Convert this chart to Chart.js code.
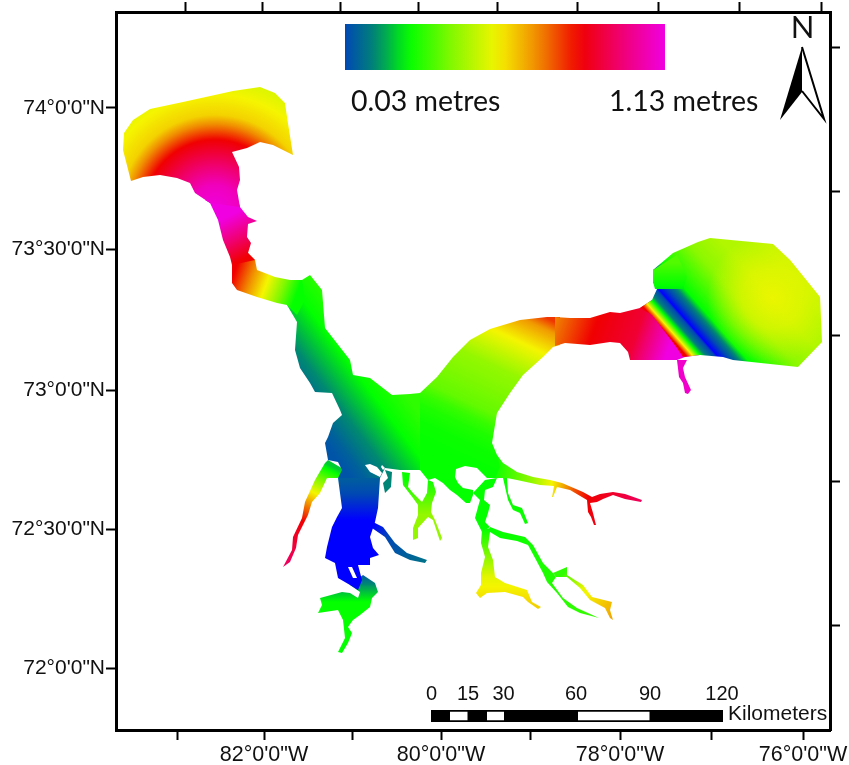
<!DOCTYPE html>
<html>
<head>
<meta charset="utf-8">
<title>Tidal range map</title>
<script src="https://cdn.jsdelivr.net/npm/chart.js@4/dist/chart.umd.min.js"></script>
<style>
html, body { margin: 0; padding: 0; background: #fff; }
canvas { display: block; }
</style>
</head>
<body>
<canvas id="mapa" width="849" height="765"></canvas>
<script>
// Map grid: easting and northing from the lower left corner of the frame
const gridEastMax = 714;
const gridNorthMax = 718;

// Colour ramp of the legend, in metres
const rampMetres = [0, 0.03, 0.14, 0.247, 0.393, 0.553, 0.69, 0.837, 0.976, 1.13];
const rampRed = [0, 0, 0, 0, 128, 245, 240, 240, 240, 240];
const rampGreen = [0, 72, 138, 255, 248, 245, 140, 0, 0, 0];
const rampBlue = [255, 180, 112, 0, 0, 0, 0, 0, 112, 224];

// Axis ticks
const bottomTicks = [61, 148, 236, 325, 414, 504, 595, 687];
const bottomLabels = ['', '82°0\'0"W', '', '80°0\'0"W', '', '78°0\'0"W', '', '76°0\'0"W'];
const topTicks = [69, 146, 224, 302, 381, 461, 542, 623, 705];
const leftTicks = [622, 481, 340, 201, 62];
const leftLabels = ['74°0\'0"N', '73°30\'0"N', '73°0\'0"N', '72°30\'0"N', '72°0\'0"N'];
const rightTicks = [683, 539, 394, 249, 105];

// North-west basin
const basinE = [15, 7, 8, 17, 34, 67, 117, 144, 159, 169, 171, 177, 157, 144, 131, 116, 123, 124, 121, 124, 94, 79, 74, 61, 44, 27];
const basinN = [549, 580, 597, 610, 621, 628, 639, 643, 637, 627, 613, 575, 585, 588, 582, 578, 563, 550, 540, 523, 527, 537, 547, 552, 555, 553];
const basinCentre = [99, 520];
const basinRadii = [0, 25, 45, 70, 95, 130];
const basinMetres = [1.13, 1.08, 0.97, 0.84, 0.6, 0.52];

// Narrows south of the basin
const narrowsE = [89, 122, 124, 132, 141, 132, 131, 135, 132, 139, 116, 114, 107, 102, 94];
const narrowsN = [530, 530, 523, 513, 509, 506, 493, 487, 477, 470, 465, 473, 490, 510, 527];
const narrowsLine = [105, 510, 125, 470];
const narrowsAt = [0, 1];
const narrowsMetres = [1.13, 0.84];

// Bend towards the main channel
const bendE = [116, 116, 121, 141, 161, 171, 181, 189, 186, 174, 159, 141, 139, 132];
const bendN = [467, 447, 440, 433, 427, 425, 415, 430, 450, 450, 453, 460, 470, 477];
const bendLine = [122, 468, 184, 445];
const bendAt = [0, 0.52, 1];
const bendMetres = [0.84, 0.55, 0.25];

// Main channel and west of the central basin
const channelE = [174, 186, 194, 206, 209, 234, 237, 254, 276, 294, 304, 304, 284, 269, 264, 222, 226, 222, 212, 209, 212, 217, 226, 224, 216, 199, 194, 184, 179, 181, 171];
const channelN = [450, 450, 455, 440, 402, 370, 355, 352, 335, 336, 337, 260, 260, 262, 252, 252, 260, 268, 270, 287, 293, 307, 315, 320, 337, 338, 347, 362, 380, 408, 425];
const channelLine = [237, 249, 312, 305];
const channelAt = [0, 0.12, 0.36, 0.73, 1];
const channelMetres = [0.05, 0.07, 0.14, 0.25, 0.3];

// East of the central basin
const centralE = [304, 321, 337, 354, 374, 404, 431, 444, 444, 437, 427, 407, 394, 381, 376, 381, 384, 379, 371, 361, 349, 340, 339, 342, 347, 357, 357, 354, 350, 341, 334, 327, 319, 312, 304];
const centralN = [337, 353, 373, 390, 401, 410, 413, 413, 385, 383, 373, 355, 337, 317, 287, 275, 263, 252, 252, 262, 264, 261, 253, 247, 242, 240, 235, 227, 227, 235, 240, 247, 252, 250, 260];
const centralLine = [304, 287, 375, 438];
const centralAt = [0, 0.125, 0.21, 0.276, 0.345, 0.607, 0.798, 0.935, 1];
const centralMetres = [0.25, 0.26, 0.28, 0.31, 0.36, 0.42, 0.55, 0.67, 0.78];

// Eastern arm
const armE = [439, 454, 474, 494, 504, 524, 536, 584, 569, 561, 537, 514, 512, 504, 494, 474, 449, 439];
const armN = [413, 412, 412, 418, 417, 422, 430, 375, 373, 370, 370, 370, 378, 387, 388, 385, 387, 384];
const armLine = [439, 410, 549, 372];
const armAt = [0, 0.35, 0.7, 1];
const armMetres = [0.7, 0.84, 0.9, 1.13];

// Small inlet under the eastern arm
const inletE = [561, 563, 567, 569, 572, 575, 569, 567, 571];
const inletN = [370, 353, 347, 337, 336, 340, 353, 362, 370];
const inletMetres = [1.1];

// Eastern basin, bands running from north west to south east
const eastE = [537, 557, 582, 594, 657, 674, 704, 706, 682, 617, 607, 584, 567, 561, 549, 536, 524, 536, 541, 537, 539];
const eastN = [460, 477, 488, 492, 486, 470, 433, 388, 363, 370, 373, 375, 373, 382, 398, 415, 422, 430, 441, 448, 455];
const eastLine = [570.7, 373.7, 675.7, 466];
const eastAt = [0, 0.019, 0.036, 0.055, 0.076, 0.107, 0.167, 0.214, 0.25, 0.31, 0.38, 0.548, 0.729, 0.881, 1];
const eastMetres = [0.84, 0.7, 0.55, 0.4, 0.25, 0.12, 0, 0.03, 0.1, 0.25, 0.3, 0.41, 0.46, 0.46, 0.48];

// Yellow middle of the eastern basin
const glowCentre = [656, 432];
const glowRadii = [0, 30, 65];
const glowStrength = [0.85, 0.6, 0];

// Shoulder in the north west of the eastern basin
const shoulderE = [539, 567, 571, 561, 537, 537];
const shoulderN = [441, 441, 453, 475, 460, 448];
const shoulderLine = [550, 438, 550, 467];
const shoulderAt = [0, 1];
const shoulderMetres = [0.22, 0.34];

// South-west arm
const westArmE = [209, 199, 189, 186, 177, 176, 167, 174, 180, 182, 192, 196, 204, 211, 222, 229, 212];
const westArmN = [267, 250, 228, 212, 193, 180, 163, 168, 182, 195, 215, 228, 237, 252, 252, 260, 270];
const westArmLine = [217, 263, 171, 170];
const westArmAt = [0, 0.3, 0.44, 0.6, 1];
const westArmMetres = [0.2, 0.55, 0.7, 0.84, 0.95];

// Deep blue southern channel
const southE = [222, 264, 262, 259, 254, 257, 263, 254, 254, 242, 246, 242, 234, 222, 219, 209, 211, 216, 221, 226];
const southN = [252, 252, 222, 208, 193, 182, 175, 172, 165, 165, 150, 140, 145, 152, 167, 172, 183, 203, 213, 222];
const southLine = [240, 262, 240, 210];
const southAt = [0, 0.5, 1];
const southMetres = [0.09, 0.03, 0];

// Green loop at the southern end
const loopE = [247, 259, 262, 256, 254, 244, 237, 232, 236, 232, 226, 222, 229, 227, 222, 202, 206, 204, 226, 234, 242, 244, 234];
const loopN = [155, 147, 138, 132, 123, 115, 110, 103, 97, 87, 77, 78, 92, 110, 120, 117, 125, 132, 138, 137, 132, 138, 145];
const loopLine = [245, 158, 245, 128];
const loopAt = [0, 0.5, 1];
const loopMetres = [0.03, 0.16, 0.25];

// Tributaries
const blueCreekE = [257, 267, 279, 291, 311, 309, 294, 279, 269, 256];
const blueCreekN = [208, 203, 187, 177, 170, 167, 170, 177, 193, 202];
const blueCreekLine = [257, 205, 311, 170];
const blueCreekAt = [0, 1];
const blueCreekMetres = [0, 0.1];

const shortCreekE = [269, 276, 275, 269, 267, 272];
const shortCreekN = [260, 258, 243, 237, 247, 252];
const shortCreekMetres = [0.13];

const forkE = [286, 287, 297, 302, 302, 297, 297, 302, 302, 312, 317, 324, 326, 319, 315, 316, 320, 317, 312, 311, 306, 297, 292, 294];
const forkN = [258, 245, 232, 225, 215, 202, 190, 192, 202, 213, 210, 189, 192, 210, 218, 227, 238, 248, 250, 237, 228, 237, 243, 257];
const forkLine = [305, 250, 305, 215];
const forkAt = [0, 1];
const forkMetres = [0.26, 0.42];

const thinCreekE = [391, 392, 397, 406, 412, 409, 404, 397, 392, 387];
const thinCreekN = [252, 237, 225, 222, 207, 206, 217, 220, 230, 252];
const thinCreekMetres = [0.26];

const stemE = [357, 369, 381, 377, 369, 368, 374, 372, 369, 374, 366, 359, 362, 364];
const stemN = [237, 250, 252, 243, 240, 230, 225, 217, 208, 203, 198, 212, 223, 230];
const stemMetres = [0.25];

const yellowArmE = [366, 374, 374, 372, 377, 379, 389, 411, 416, 425, 422, 412, 407, 389, 371, 364, 360, 365, 365, 369, 365];
const yellowArmN = [200, 202, 198, 183, 170, 153, 147, 140, 128, 123, 121, 128, 133, 138, 137, 132, 137, 145, 157, 173, 187];
const yellowArmLine = [375, 200, 375, 125];
const yellowArmAt = [0, 0.3, 0.63, 1];
const yellowArmMetres = [0.26, 0.38, 0.53, 0.6];

const greenArmE = [374, 387, 409, 417, 427, 437, 440, 436, 447, 461, 483, 464, 452, 441, 431, 427, 419, 412, 401, 384, 374];
const greenArmN = [203, 198, 193, 185, 167, 157, 153, 147, 132, 122, 112, 117, 123, 137, 148, 157, 172, 185, 189, 192, 198];
const greenArmLine = [374, 200, 483, 112];
const greenArmAt = [0, 1];
const greenArmMetres = [0.25, 0.31];

const orangeArmE = [437, 451, 451, 467, 476, 496, 494, 497, 494, 489, 474, 464, 451, 440];
const orangeArmN = [157, 163, 155, 145, 133, 128, 120, 110, 112, 122, 130, 142, 153, 153];
const orangeArmLine = [451, 160, 497, 110];
const orangeArmAt = [0, 0.35, 0.75, 1];
const orangeArmMetres = [0.3, 0.53, 0.62, 0.66];

const redArmE = [381, 387, 401, 417, 434, 446, 467, 476, 484, 497, 509, 526, 525, 509, 497, 487, 481, 474, 477, 480, 478, 475, 472, 471, 454, 441, 437, 436, 438, 424, 401, 391, 379, 374];
const redArmN = [275, 267, 258, 253, 250, 247, 238, 233, 236, 238, 236, 230, 228, 231, 235, 231, 228, 227, 217, 205, 205, 213, 218, 230, 240, 243, 233, 233, 244, 245, 250, 252, 252, 260];
const redArmLine = [381, 260, 526, 240];
const redArmAt = [0, 0.25, 0.38, 0.54, 0.65, 1];
const redArmMetres = [0.27, 0.42, 0.55, 0.75, 0.84, 0.95];

// Islands
const islandOneE = [232, 236, 241, 237];
const islandOneN = [163, 163, 152, 152];
const islandTwoE = [249, 254, 264, 266, 261, 254];
const islandTwoN = [265, 258, 253, 257, 263, 266];
const islandThreeE = [266, 269, 267, 265];
const islandThreeN = [265, 262, 260, 263];

// Legend bar
const legendE = [229, 549, 549, 229];
const legendN = [706, 706, 660, 660];
const legendLine = [229, 680, 549, 680];
const legendAt = [0, 1];
const legendMetres = [0.03, 1.13];

// North arrow
const arrowBlackE = [686, 664, 686];
const arrowBlackN = [683, 610, 638];
const arrowWhiteE = [686, 708, 686];
const arrowWhiteN = [683, 611, 639];

// Scale bar
const barE = [315, 607, 607, 315];
const barN = [20, 20, 8, 8];
const barGapsStart = [334, 371, 462];
const barGapsEnd = [351.5, 388, 533.5];
const barGapTop = 18.3;
const barGapBottom = 9.7;
const scaleLabels = ['0', '15', '30', '60', '90', '120'];
const scaleLabelE = [315.5, 352, 387.5, 460, 534, 606];

function colorAt(metres) {
    let i = 0;
    while (i < rampMetres.length - 2 && metres > rampMetres[i + 1]) i++;
    let f = (metres - rampMetres[i]) / (rampMetres[i + 1] - rampMetres[i]);
    f = Math.max(0, Math.min(1, f));
    const r = Math.round(rampRed[i] + (rampRed[i + 1] - rampRed[i]) * f);
    const g = Math.round(rampGreen[i] + (rampGreen[i + 1] - rampGreen[i]) * f);
    const b = Math.round(rampBlue[i] + (rampBlue[i + 1] - rampBlue[i]) * f);
    return 'rgb(' + r + ',' + g + ',' + b + ')';
}

// Fine colour stops so that the gradient follows the ramp
function addStops(gradient, at, metres) {
    const steps = 24;
    for (let i = 0; i < at.length - 1; i++) {
        for (let s = 0; s <= steps; s++) {
            const f = s / steps;
            gradient.addColorStop(at[i] + (at[i + 1] - at[i]) * f, colorAt(metres[i] + (metres[i + 1] - metres[i]) * f));
        }
    }
}

function linearFill(line, at, metres) {
    return function (context) {
        const chart = context.chart;
        if (!chart.chartArea) return colorAt(metres[0]);
        const x = chart.scales.x, y = chart.scales.y;
        const gradient = chart.ctx.createLinearGradient(
            x.getPixelForValue(line[0]), y.getPixelForValue(line[1]),
            x.getPixelForValue(line[2]), y.getPixelForValue(line[3]));
        addStops(gradient, at, metres);
        return gradient;
    };
}

function radialGradient(chart, centre, outer) {
    const x = chart.scales.x, y = chart.scales.y;
    const cx = x.getPixelForValue(centre[0]), cy = y.getPixelForValue(centre[1]);
    return chart.ctx.createRadialGradient(cx, cy, 0, cx, cy, x.getPixelForValue(outer) - x.getPixelForValue(0));
}

function radialFill(centre, radii, metres) {
    return function (context) {
        const chart = context.chart;
        if (!chart.chartArea) return colorAt(metres[0]);
        const outer = radii[radii.length - 1];
        const gradient = radialGradient(chart, centre, outer);
        addStops(gradient, radii.map(r => r / outer), metres);
        return gradient;
    };
}

function glowFill(centre, radii, strength) {
    return function (context) {
        const chart = context.chart;
        if (!chart.chartArea) return 'rgba(245,245,0,0)';
        const outer = radii[radii.length - 1];
        const gradient = radialGradient(chart, centre, outer);
        radii.forEach((r, i) => gradient.addColorStop(r / outer, 'rgba(245,245,0,' + strength[i] + ')'));
        return gradient;
    };
}

const datasets = [];
function addShape(east, north, fillColor, outline) {
    datasets.push({
        data: east.map((e, i) => ({ x: e, y: north[i] })),
        showLine: true,
        fill: 'shape',
        backgroundColor: fillColor,
        borderColor: outline || 'rgba(0,0,0,0)',
        borderWidth: outline ? 2 : 0,
        borderJoinStyle: 'miter',
        tension: 0,
        pointRadius: 0,
        order: -datasets.length
    });
}

addShape(westArmE, westArmN, linearFill(westArmLine, westArmAt, westArmMetres));
addShape(channelE, channelN, linearFill(channelLine, channelAt, channelMetres));
addShape(redArmE, redArmN, linearFill(redArmLine, redArmAt, redArmMetres));
addShape(centralE, centralN, linearFill(centralLine, centralAt, centralMetres));
addShape(bendE, bendN, linearFill(bendLine, bendAt, bendMetres));
addShape(narrowsE, narrowsN, linearFill(narrowsLine, narrowsAt, narrowsMetres));
addShape(basinE, basinN, radialFill(basinCentre, basinRadii, basinMetres));
addShape(armE, armN, linearFill(armLine, armAt, armMetres));
addShape(inletE, inletN, colorAt(inletMetres[0]));
addShape(eastE, eastN, linearFill(eastLine, eastAt, eastMetres));
addShape(eastE, eastN, glowFill(glowCentre, glowRadii, glowStrength));
addShape(shoulderE, shoulderN, linearFill(shoulderLine, shoulderAt, shoulderMetres));
addShape(loopE, loopN, linearFill(loopLine, loopAt, loopMetres));
addShape(southE, southN, linearFill(southLine, southAt, southMetres));
addShape(blueCreekE, blueCreekN, linearFill(blueCreekLine, blueCreekAt, blueCreekMetres));
addShape(shortCreekE, shortCreekN, colorAt(shortCreekMetres[0]));
addShape(forkE, forkN, linearFill(forkLine, forkAt, forkMetres));
addShape(thinCreekE, thinCreekN, colorAt(thinCreekMetres[0]));
addShape(stemE, stemN, colorAt(stemMetres[0]));
addShape(yellowArmE, yellowArmN, linearFill(yellowArmLine, yellowArmAt, yellowArmMetres));
addShape(greenArmE, greenArmN, linearFill(greenArmLine, greenArmAt, greenArmMetres));
addShape(orangeArmE, orangeArmN, linearFill(orangeArmLine, orangeArmAt, orangeArmMetres));
addShape(islandOneE, islandOneN, '#fff');
addShape(islandTwoE, islandTwoN, '#fff');
addShape(islandThreeE, islandThreeN, '#fff');
addShape(legendE, legendN, linearFill(legendLine, legendAt, legendMetres));
addShape(arrowWhiteE, arrowWhiteN, '#fff', '#000');
addShape(arrowBlackE, arrowBlackN, '#000');
addShape(barE, barN, '#000');
barGapsStart.forEach((start, i) => {
    addShape([start, barGapsEnd[i], barGapsEnd[i], start], [barGapTop, barGapTop, barGapBottom, barGapBottom], '#fff');
});

// Texts inside the frame: legend, north sign and scale bar
const mapTexts = {
    id: 'mapTexts',
    afterDatasetsDraw(chart) {
        const ctx = chart.ctx;
        const x = chart.scales.x, y = chart.scales.y;
        ctx.save();
        ctx.fillStyle = '#111';
        ctx.textBaseline = 'alphabetic';
        ctx.font = '28.5px Lato';
        ctx.textAlign = 'left';
        ctx.fillText('0.03 metres', x.getPixelForValue(235), y.getPixelForValue(619));
        ctx.fillText('1.13 metres', x.getPixelForValue(493), y.getPixelForValue(619));
        ctx.font = '31px Lato';
        ctx.textAlign = 'center';
        ctx.fillText('N', x.getPixelForValue(686.5), y.getPixelForValue(692));
        ctx.font = '20px "Liberation Sans"';
        scaleLabels.forEach((label, i) => {
            ctx.fillText(label, x.getPixelForValue(scaleLabelE[i]), y.getPixelForValue(30));
        });
        ctx.font = '21px "Liberation Sans"';
        ctx.textAlign = 'left';
        ctx.fillText('Kilometers', x.getPixelForValue(612), y.getPixelForValue(10));
        ctx.restore();
    }
};

function frameAxis(position, min, max, ticks, labels, size, fontSize) {
    return {
        type: 'linear',
        position: position,
        min: min,
        max: max,
        border: { display: true, color: '#000', width: 3 },
        grid: { drawOnChartArea: false, drawTicks: true, tickLength: 10, tickWidth: 2, tickColor: '#000', color: '#000' },
        ticks: {
            display: !!labels,
            autoSkip: false,
            maxRotation: 0,
            padding: position === 'left' ? 1 : 2,
            color: '#111',
            font: { family: '"Liberation Sans"', size: fontSize || 20 },
            callback: value => labels ? labels[ticks.indexOf(value)] : ''
        },
        afterBuildTicks: axis => { axis.ticks = ticks.map(v => ({ value: v })); },
        afterFit: axis => {
            if (position === 'left' || position === 'right') axis.width = size;
            else axis.height = size;
            axis.paddingLeft = 0;
            axis.paddingRight = 0;
            axis.paddingTop = 0;
            axis.paddingBottom = 0;
        }
    };
}

new Chart(document.getElementById('mapa'), {
    type: 'scatter',
    data: { datasets: datasets },
    plugins: [mapTexts],
    options: {
        responsive: false,
        animation: false,
        layout: { padding: 0 },
        plugins: { legend: { display: false }, tooltip: { enabled: false } },
        scales: {
            x: frameAxis('bottom', 0, gridEastMax, bottomTicks, bottomLabels, 35, 21.5),
            xTop: frameAxis('top', 0, gridEastMax, topTicks, null, 12),
            y: frameAxis('left', 0, gridNorthMax, leftTicks, leftLabels, 116, 21),
            yRight: frameAxis('right', 0, gridNorthMax, rightTicks, null, 19)
        }
    }
});
</script>
</body>
</html>
